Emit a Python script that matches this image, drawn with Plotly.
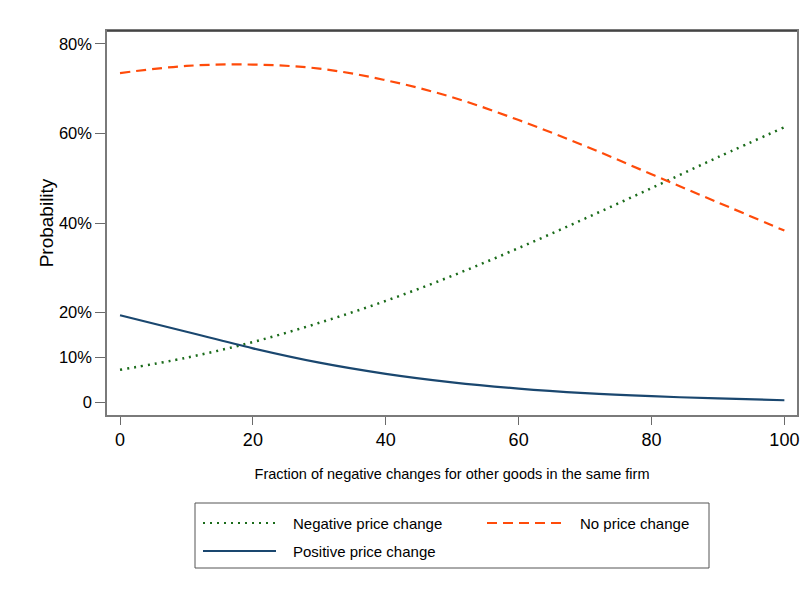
import plotly.graph_objects as go

# Share of other goods in the firm with a negative price change (percent)
fraction = [0, 10, 20, 30, 40, 50, 60, 70, 80, 90, 100]

# Predicted probabilities by outcome
p_negative = [0.072, 0.099, 0.134, 0.177, 0.226, 0.282, 0.344, 0.410, 0.478, 0.547, 0.614]
p_positive = [0.194, 0.157, 0.120, 0.088, 0.063, 0.044, 0.030, 0.020, 0.013, 0.008, 0.004]
p_none = [0.735, 0.751, 0.754, 0.745, 0.719, 0.681, 0.630, 0.572, 0.509, 0.446, 0.383]

y_tickvals = [0, 0.1, 0.2, 0.4, 0.6, 0.8]
y_ticktext = ["0", "10%", "20%", "40%", "60%", "80%"]
x_tickvals = [0, 20, 40, 60, 80, 100]

names = ["Negative price change", "No price change", "Positive price change"]
GREEN, ORANGE, NAVY = "#1a6b1a", "#ff4b0a", "#1a476f"

W, H = 811, 591
L, R, T, B = 107, 14, 31, 176
FONT = "Liberation Sans, Arial, sans-serif"

fig = go.Figure()
fig.add_trace(go.Scatter(x=fraction, y=p_negative, name=names[0], mode="lines",
                         line=dict(color=GREEN, width=2.5, dash="2px,5px", shape="spline"),
                         showlegend=False))
fig.add_trace(go.Scatter(x=fraction, y=p_none, name=names[1], mode="lines",
                         line=dict(color=ORANGE, width=2.2, dash="10px,6px", shape="spline"),
                         showlegend=False))
fig.add_trace(go.Scatter(x=fraction, y=p_positive, name=names[2], mode="lines",
                         line=dict(color=NAVY, width=2.2, shape="spline"),
                         showlegend=False))


def px_x(p):
    return (p - L) / (W - L - R)


def px_y(p):
    return (H - B - p) / (H - T - B)


# Legend drawn as a boxed key below the plot
shapes = [dict(type="rect", xref="paper", yref="paper",
               x0=px_x(195), x1=px_x(709), y0=px_y(503), y1=px_y(568),
               line=dict(color="#555555", width=1), fillcolor="white"),
          # darker top edge of the plot frame
          dict(type="line", xref="paper", yref="paper", x0=0, x1=1, y0=1, y1=1,
               line=dict(color="#333333", width=1.5))]
key = [
    (names[0], GREEN, "2px,5px", 203, 276, 291, 523),
    (names[1], ORANGE, "10px,6px", 487, 566, 578, 523),
    (names[2], NAVY, "solid", 203, 276, 291, 551),
]
annotations = []
for label, color, dash, sx0, sx1, tx, ty in key:
    shapes.append(dict(type="line", xref="paper", yref="paper",
                       x0=px_x(sx0), x1=px_x(sx1), y0=px_y(ty), y1=px_y(ty),
                       line=dict(color=color, width=2.2, dash=dash)))
    annotations.append(dict(xref="paper", yref="paper", x=px_x(tx), y=px_y(ty),
                            text=label, showarrow=False, xanchor="left", yanchor="middle",
                            font=dict(family=FONT, size=15, color="black")))

fig.update_layout(
    width=W, height=H,
    margin=dict(l=L, r=R, t=T, b=B),
    paper_bgcolor="white", plot_bgcolor="white",
    font=dict(family=FONT, color="black"),
    shapes=shapes, annotations=annotations,
    showlegend=False,
)
fig.update_xaxes(
    range=[-1.96, 101.9], tickvals=x_tickvals, showgrid=False, zeroline=False,
    showline=True, mirror=True, linecolor="#7a7a7a", linewidth=1.5,
    ticks="outside", ticklen=8, tickcolor="#6a6a6a", tickwidth=1,
    tickfont=dict(size=18),
    title=dict(text="Fraction of negative changes for other goods in the same firm",
               font=dict(size=14.5), standoff=20),
)
fig.update_yaxes(
    range=[-0.029, 0.829], tickvals=y_tickvals, ticktext=y_ticktext,
    showgrid=False, zeroline=False,
    showline=True, mirror=True, linecolor="#7a7a7a", linewidth=1.5,
    ticks="outside", ticklen=10, tickcolor="#6a6a6a", tickwidth=1,
    tickfont=dict(size=16.5),
    title=dict(text="Probability", font=dict(size=19), standoff=0),
)

fig.write_html("out.html")
